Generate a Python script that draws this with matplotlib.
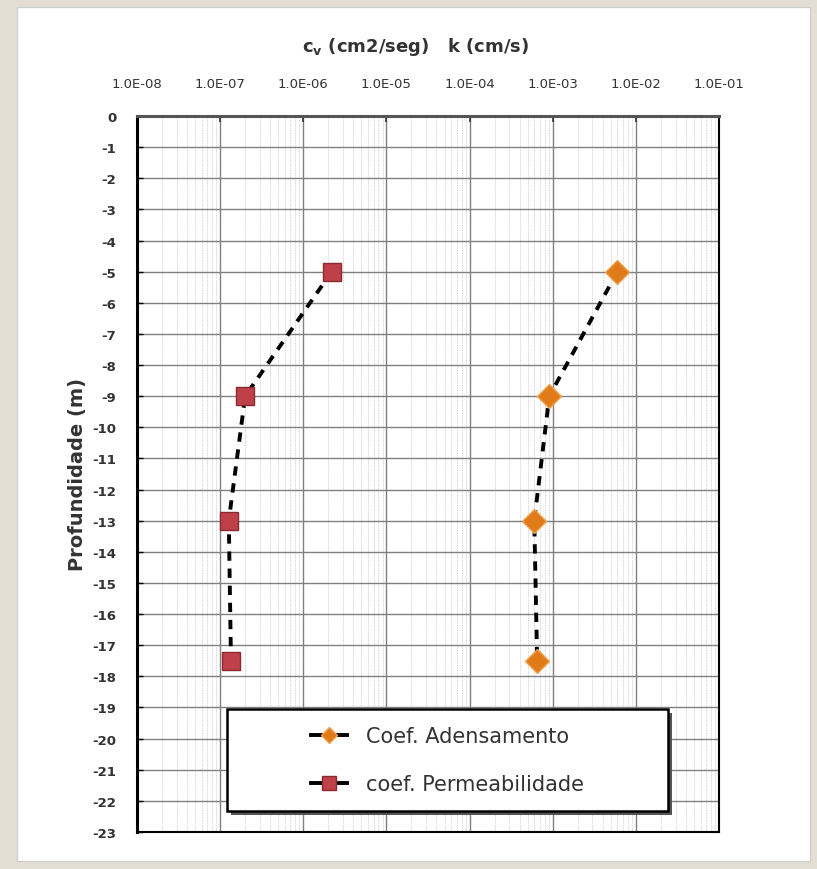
import matplotlib
matplotlib.use("Agg")
import matplotlib.pyplot as plt
from matplotlib.ticker import FixedLocator, FuncFormatter, LogLocator, NullFormatter
from matplotlib.patches import Rectangle
from matplotlib.lines import Line2D
import numpy as np

# Data
depth = [-5, -9, -13, -17.5]
cv_adensamento = [6.0e-3, 9.1e-4, 6.0e-4, 6.5e-4]
k_permeabilidade = [2.2e-6, 2.0e-7, 1.27e-7, 1.35e-7]
x_ticks = [1e-8, 1e-7, 1e-6, 1e-5, 1e-4, 1e-3, 1e-2, 1e-1]
y_ticks = list(range(0, -24, -1))
label_cv = "Coef. Adensamento"
label_k = "coef. Permeabilidade"

plt.rcParams['font.family'] = ['DejaVu Sans']

W, H = 817, 870
fig = plt.figure(figsize=(W / 100, H / 100), dpi=100)
fig.patch.set_facecolor('#e3ddd3')
fig.patches.append(Rectangle((17 / W, 1 - 862 / H), (810 - 17) / W, (862 - 8) / H,
                             transform=fig.transFigure, facecolor='white',
                             edgecolor='#d0d0d0', lw=1, zorder=-10))

ax = fig.add_axes([137 / W, 1 - 833 / H, (719 - 137) / W, (833 - 117) / H])
ax.set_xscale('log')
ax.set_xlim(1e-8, 1e-1)
ax.set_ylim(-23, 0)

cv_style = dict(marker='D', markerfacecolor='#e07b1a', markeredgecolor='#f0a050', markeredgewidth=1)
k_style = dict(marker='s', markerfacecolor='#c0404a', markeredgecolor='#8a2a30', markeredgewidth=1)

ax.plot(cv_adensamento, depth, linestyle=(0, (2.4, 2.0)), color='black', lw=2.8,
        markersize=12, label=label_cv, zorder=3, **cv_style)
ax.plot(k_permeabilidade, depth, linestyle=(0, (2.4, 2.0)), color='black', lw=2.8,
        markersize=13, label=label_k, zorder=3, **k_style)

ax.xaxis.tick_top()
ax.xaxis.set_label_position('top')
ax.xaxis.set_major_locator(FixedLocator(x_ticks))
ax.xaxis.set_minor_locator(LogLocator(base=10, subs=np.arange(2, 10), numticks=100))
ax.xaxis.set_minor_formatter(NullFormatter())
ax.xaxis.set_major_formatter(FuncFormatter(lambda v, p: "1.0E%+03d" % int(round(np.log10(v)))))
ax.yaxis.set_major_locator(FixedLocator(y_ticks))
ax.yaxis.set_major_formatter(FuncFormatter(lambda v, p: "%d" % int(round(v))))

ax.tick_params(axis='x', which='major', direction='in', length=4, width=1.2,
               labelsize=9.5, pad=19, colors='#333333', labelcolor='#333333')
ax.tick_params(axis='x', which='minor', length=0)
ax.tick_params(axis='y', which='major', direction='in', length=4, width=1,
               labelsize=9.5, pad=15, labelcolor='#333333')
for lab in ax.get_yticklabels():
    lab.set_fontweight('bold')

ax.grid(True, which='major', axis='both', color='#808080', lw=1.0)
ax.grid(True, which='minor', axis='x', color='#c8c8c8', lw=0.6, linestyle=(0, (1, 1)))
ax.set_axisbelow(True)

for s in ax.spines.values():
    s.set_color('black')
    s.set_linewidth(1.5)
ax.spines['left'].set_linewidth(2.2)
ax.spines['top'].set_color('#555555')
ax.spines['top'].set_linewidth(2.2)

fig.text(416 / W, 1 - 47 / H, r"c$_\mathregular{v}$ (cm2/seg)   k (cm/s)", ha='center', va='center',
         fontsize=13, fontweight='bold', color='#333333')
ax.set_ylabel("Profundidade (m)", fontsize=14, fontweight='bold', labelpad=4, color='#333333')

# legend box (with shadow)
bx0, bx1, by0, by1 = 227, 668, 710, 812
fig.patches.append(Rectangle(((bx0 + 4) / W, 1 - (by1 + 4) / H), (bx1 - bx0) / W, (by1 - by0) / H,
                             transform=fig.transFigure, facecolor='#555555',
                             edgecolor='none', zorder=4))
fig.patches.append(Rectangle((bx0 / W, 1 - by1 / H), (bx1 - bx0) / W, (by1 - by0) / H,
                             transform=fig.transFigure, facecolor='white',
                             edgecolor='black', lw=1.8, zorder=5))
handles = [Line2D([], [], color='black', lw=2.8, markersize=8.5, **cv_style),
           Line2D([], [], color='black', lw=2.8, markersize=9.5, **k_style)]
leg = fig.legend(handles=handles, labels=[label_cv, label_k], loc='center',
                 bbox_to_anchor=((bx0 + bx1) / 2 / W, 1 - (by0 + by1) / 2 / H),
                 fontsize=15, frameon=False, labelspacing=1.35, handlelength=1.7,
                 handletextpad=0.9)
leg.set_zorder(6)
for t in leg.get_texts():
    t.set_color('#333333')

fig.savefig('out.png', dpi=100, facecolor=fig.get_facecolor())
